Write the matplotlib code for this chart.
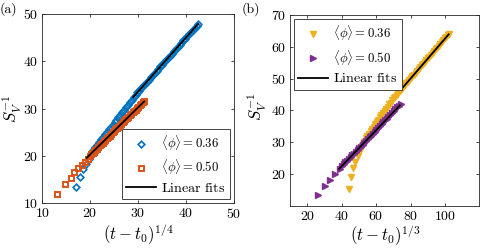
import matplotlib
matplotlib.use("Agg")
import matplotlib.pyplot as plt

plt.rcParams['font.family'] = 'serif'
plt.rcParams['font.serif'] = ['cmr10', 'DejaVu Serif']
plt.rcParams['mathtext.fontset'] = 'cm'
plt.rcParams['axes.formatter.use_mathtext'] = True

# panel (a): S_V^-1 against (t - t0)^(1/4)
a36_x = [17.1, 17.9, 18.5, 19.1, 19.7, 20.2, 20.7, 21.1, 21.5, 21.9, 22.3, 22.7, 23.1, 23.5,
         23.9, 24.3, 24.7, 25.1, 25.5, 25.9, 26.3, 26.7, 27.1, 27.5, 27.9, 28.3, 28.7, 29.1,
         29.5, 29.9, 30.3, 30.7, 31.1, 31.5, 31.9, 32.3, 32.7, 33.1, 33.5, 33.9, 34.3, 34.7,
         35.1, 35.5, 35.9, 36.3, 36.7, 37.1, 37.5, 37.9, 38.3, 38.7, 39.1, 39.5, 39.9, 40.3,
         40.7, 41.1, 41.5, 41.9, 42.3, 42.6]
a36_y = [13.4, 15.6, 17.2, 18.3, 19.3, 20.3, 21.2, 21.8, 22.4, 23.0, 23.5, 24.0, 24.6, 25.1,
         25.6, 26.1, 26.6, 27.1, 27.6, 28.2, 28.7, 29.2, 29.8, 30.3, 30.8, 31.4, 31.9, 32.4,
         32.9, 33.4, 33.8, 34.3, 34.8, 35.2, 35.7, 36.1, 36.6, 37.1, 37.5, 38.0, 38.4, 38.9,
         39.3, 39.8, 40.3, 40.7, 41.2, 41.6, 42.1, 42.5, 43.0, 43.5, 43.9, 44.4, 44.8, 45.3,
         45.7, 46.2, 46.6, 47.1, 47.5, 47.9]
a50_x = [13.1, 14.7, 15.9, 16.7, 17.5, 18.2, 18.9, 19.5, 19.9, 20.2, 20.5, 20.8, 21.1, 21.4,
         21.7, 22.0, 22.3, 22.6, 22.9, 23.2, 23.5, 23.8, 24.1, 24.4, 24.7, 25.0, 25.3, 25.6,
         25.9, 26.2, 26.5, 26.8, 27.1, 27.4, 27.7, 28.0, 28.3, 28.6, 28.9, 29.2, 29.5, 29.8,
         30.1, 30.4, 30.7, 31.0, 31.3]
a50_y = [12.0, 14.0, 15.4, 16.5, 17.4, 18.1, 18.8, 19.4, 20.0, 20.3, 20.6, 20.9, 21.2, 21.5,
         21.9, 22.2, 22.5, 22.8, 23.1, 23.4, 23.7, 24.0, 24.3, 24.6, 25.0, 25.3, 25.6, 25.9,
         26.2, 26.5, 26.8, 27.1, 27.4, 27.7, 28.0, 28.3, 28.6, 28.9, 29.2, 29.5, 29.8, 30.1,
         30.4, 30.7, 31.0, 31.3, 31.7]
a36_fit_x = [29.0, 42.6]
a36_fit_y = [32.4, 47.9]
a50_fit_x = [19.3, 31.3]
a50_fit_y = [19.6, 31.5]

# panel (b): S_V^-1 against (t - t0)^(1/3)
b36_x = [44.0, 45.5, 46.4, 48.0, 49.3, 50.7, 51.8, 52.9, 54.1, 55.0, 55.9, 56.8, 57.7, 58.6,
         59.5, 60.4, 61.3, 62.2, 63.1, 64.0, 64.9, 65.8, 66.7, 67.6, 68.5, 69.4, 70.3, 71.2,
         72.1, 73.0, 73.9, 74.8, 75.7, 76.6, 77.5, 78.4, 79.3, 80.2, 81.1, 82.0, 82.9, 83.8,
         84.7, 85.6, 86.5, 87.4, 88.3, 89.2, 90.1, 91.0, 91.9, 92.8, 93.7, 94.6, 95.5, 96.4,
         97.3, 98.2, 99.1, 100.0, 100.9, 101.8, 102.5]
b36_y = [15.3, 19.0, 21.8, 23.9, 25.7, 27.2, 28.8, 30.0, 31.2, 31.9, 32.7, 33.4, 34.2, 34.9,
         35.7, 36.4, 37.1, 37.8, 38.5, 39.2, 39.9, 40.6, 41.2, 41.9, 42.5, 43.2, 43.8, 44.4,
         45.0, 45.6, 46.2, 46.8, 47.4, 47.9, 48.5, 49.1, 49.6, 50.2, 50.8, 51.3, 51.9, 52.5,
         53.0, 53.6, 54.2, 54.7, 55.3, 55.9, 56.4, 57.0, 57.6, 58.1, 58.7, 59.3, 59.8, 60.4,
         61.0, 61.5, 62.1, 62.7, 63.2, 63.8, 64.2]
b50_x = [26.3, 30.5, 33.4, 36.3, 38.8, 40.2, 41.2, 42.2, 43.2, 44.2, 45.2, 46.2, 47.2, 48.2,
         49.2, 50.2, 51.2, 52.2, 53.2, 54.2, 55.2, 56.2, 57.2, 58.2, 59.2, 60.2, 61.2, 62.2,
         63.2, 64.2, 65.2, 66.2, 67.2, 68.2, 69.2, 70.2, 71.2, 72.2, 73.2, 74.5]
b50_y = [13.4, 16.3, 18.1, 20.0, 21.6, 22.6, 23.1, 23.7, 24.2, 24.8, 25.3, 25.9, 26.4, 27.0,
         27.5, 28.1, 28.6, 29.2, 29.8, 30.4, 30.9, 31.5, 32.1, 32.7, 33.3, 33.9, 34.5, 35.1,
         35.7, 36.3, 36.9, 37.4, 38.0, 38.6, 39.2, 39.8, 40.4, 41.0, 41.5, 41.9]
b36_fit_x = [75.8, 102.2]
b36_fit_y = [47.4, 64.0]
b50_fit_x = [38.5, 73.8]
b50_fit_y = [21.6, 41.6]

labels = [r'$\langle\phi\rangle = 0.36$', r'$\langle\phi\rangle = 0.50$', r'$\mathrm{Linear\ fits}$']

blue = '#0072BD'
orange = '#D95319'
yellow = '#EDB120'
purple = '#7E2F8E'
axcol = '#262626'

fig = plt.figure(figsize=(4.81, 2.49), dpi=100)
ax1 = fig.add_axes([0.088, 0.184, 0.3975, 0.760])
ax2 = fig.add_axes([0.603, 0.174, 0.3936, 0.7647])


def style(ax):
    for s in ax.spines.values():
        s.set_color(axcol)
        s.set_linewidth(0.6)
    ax.tick_params(direction='in', top=True, right=True, length=2.5, width=0.6,
                   labelsize=10, colors=axcol, pad=3)
    ax.tick_params(labelcolor='black')


def legend(ax, handles, loc):
    leg = ax.legend(handles, labels, loc=loc, fontsize=9.2, fancybox=False,
                    edgecolor=axcol, framealpha=1, borderaxespad=0.3, handlelength=2.3,
                    handletextpad=0.4, labelspacing=0.35, borderpad=0.35)
    leg.get_frame().set_linewidth(0.6)
    leg.get_texts()[2].set_fontsize(10.2)
    return leg


h1, = ax1.plot(a36_x, a36_y, 'D', ms=3.4, mfc='none', mec=blue, mew=1.2, ls='none')
h2, = ax1.plot(a50_x, a50_y, 's', ms=3.6, mfc='none', mec=orange, mew=1.4, ls='none')
h3, = ax1.plot(a36_fit_x, a36_fit_y, color='black', lw=1.3)
ax1.plot(a50_fit_x, a50_fit_y, color='black', lw=1.3)
ax1.set_xlim(10, 50)
ax1.set_ylim(10, 50)
ax1.set_xticks([10, 20, 30, 40, 50])
ax1.set_yticks([10, 20, 30, 40, 50])
ax1.set_xlabel(r'$(t-t_0)^{1/4}$', fontsize=12, labelpad=1)
ax1.set_ylabel(r'$S_V^{-1}$', fontsize=12)
ax1.yaxis.set_label_coords(-0.095, 0.5)
style(ax1)
legend(ax1, [h1, h2, h3], 'lower right')

g1, = ax2.plot(b36_x, b36_y, 'v', ms=4.2, color=yellow, ls='none')
g2, = ax2.plot(b50_x, b50_y, '>', ms=4.2, color=purple, ls='none')
g3, = ax2.plot(b36_fit_x, b36_fit_y, color='black', lw=1.3)
ax2.plot(b50_fit_x, b50_fit_y, color='black', lw=1.3)
ax2.set_xlim(10, 120)
ax2.set_ylim(10, 70)
ax2.set_xticks([20, 40, 60, 80, 100])
ax2.set_yticks([20, 30, 40, 50, 60, 70])
ax2.set_xlabel(r'$(t-t_0)^{1/3}$', fontsize=12, labelpad=1)
ax2.set_ylabel(r'$S_V^{-1}$', fontsize=12)
ax2.yaxis.set_label_coords(-0.11, 0.52)
style(ax2)
legend(ax2, [g1, g2, g3], 'upper left')

fig.text(0.0, 0.965, '(a)', fontsize=10, va='center', ha='left')
fig.text(0.503, 0.965, '(b)', fontsize=10, va='center', ha='left')

fig.savefig('out.png', dpi=100)
